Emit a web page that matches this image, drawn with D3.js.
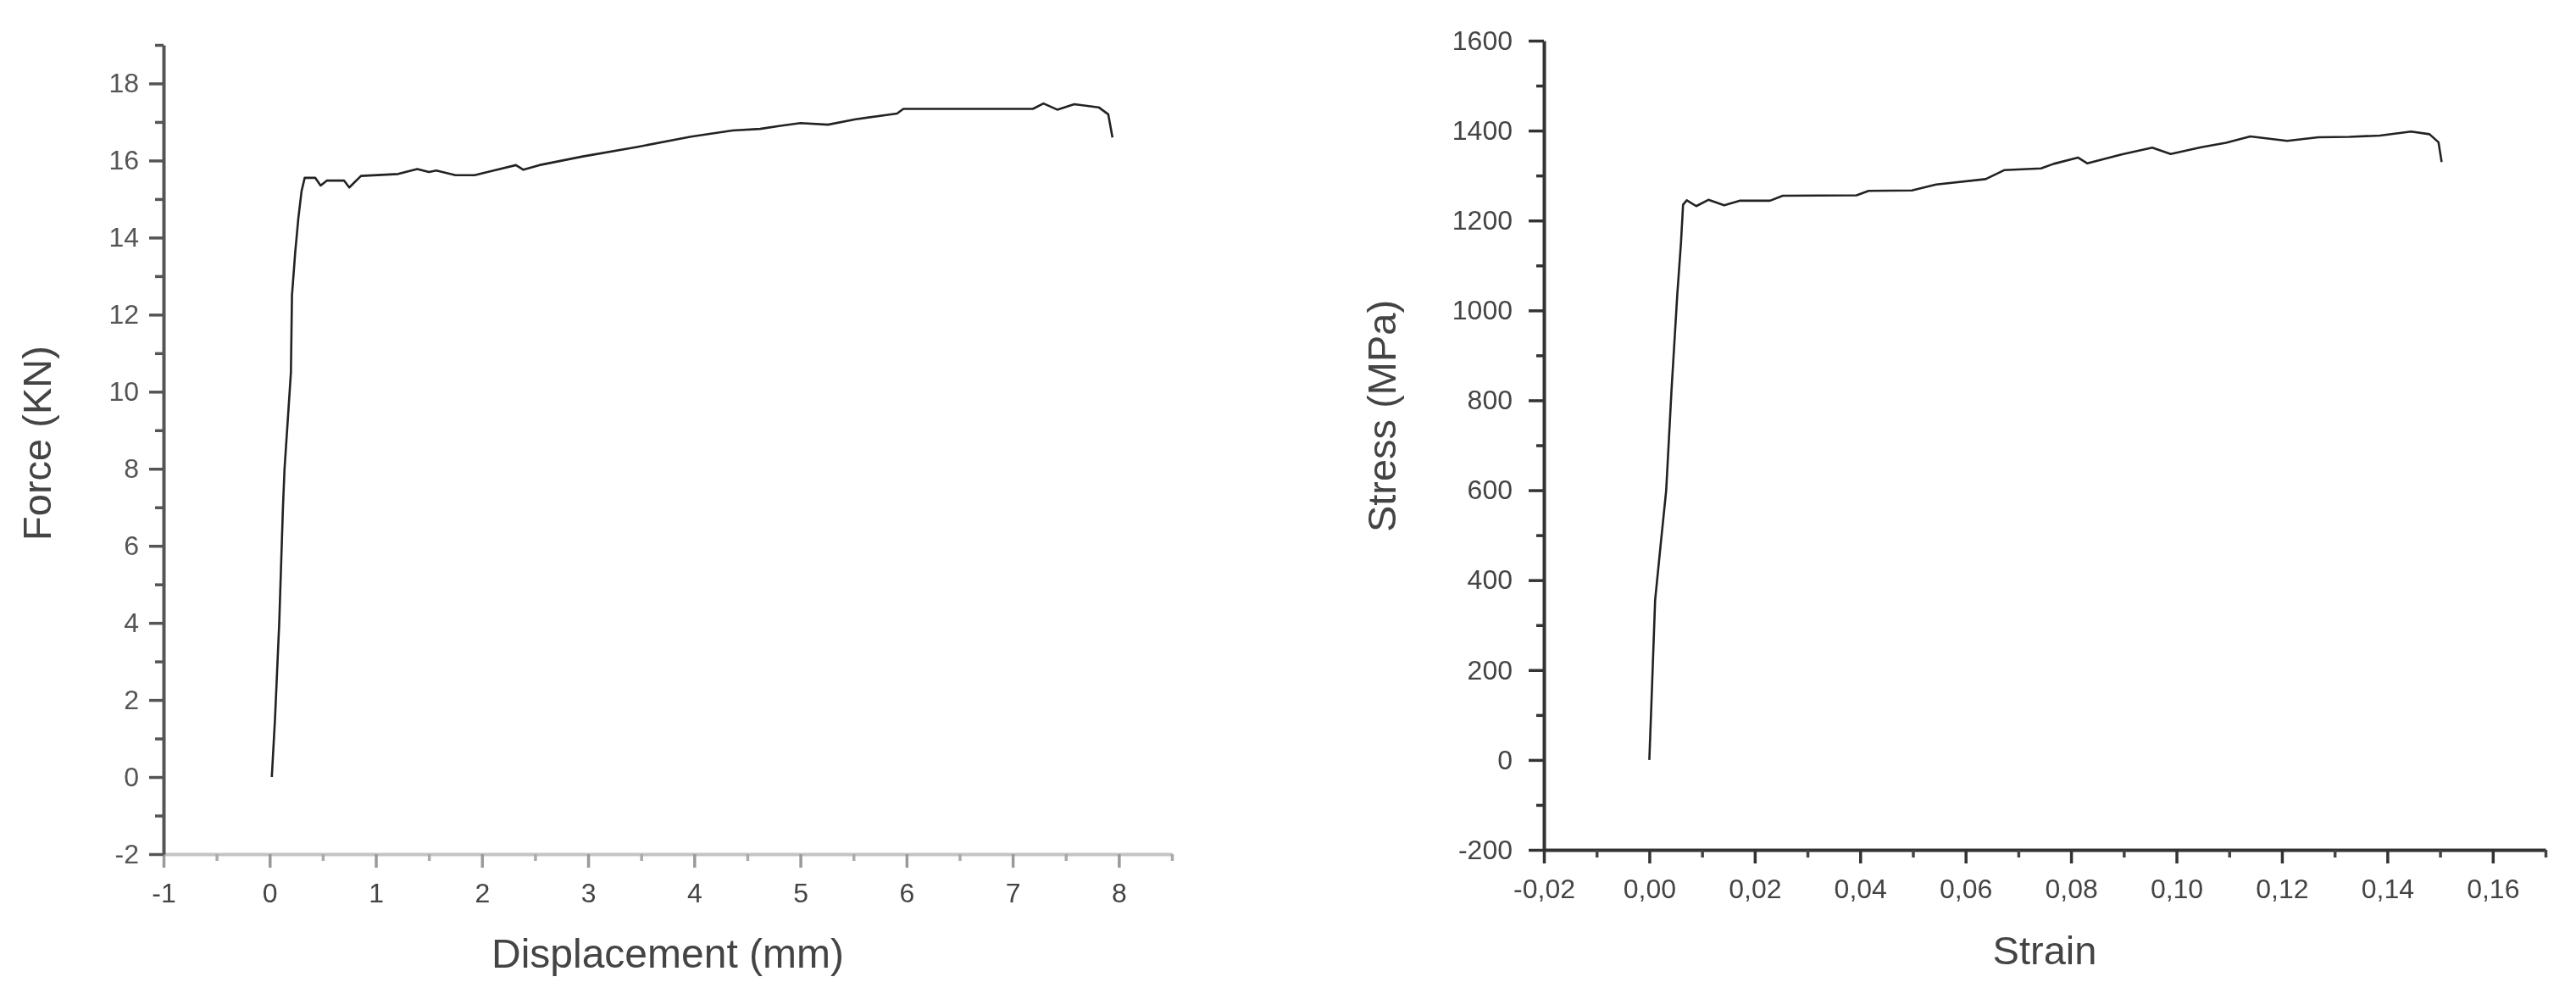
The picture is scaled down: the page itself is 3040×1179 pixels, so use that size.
<!DOCTYPE html>
<html>
<head>
<meta charset="utf-8">
<script src="https://cdn.jsdelivr.net/npm/d3@7"></script>
<style>
  body { margin: 0; background: #fff; }
  svg { display: block; filter: blur(0.6px); }
  .tick text { font-family: "Liberation Sans", Arial, sans-serif; }
</style>
</head>
<body>
<div id="chart"></div>
<script>
// left panel: force vs displacement
var dispMm = [0.02, 0.05, 0.09, 0.125, 0.14, 0.2, 0.21, 0.24, 0.27, 0.3, 0.33, 0.43, 0.48, 0.54, 0.7, 0.75, 0.86, 1.21, 1.39, 1.5, 1.57, 1.75, 1.93, 2.11, 2.32, 2.39, 2.54, 2.94, 3.46, 3.97, 4.36, 4.62, 4.81, 5.0, 5.26, 5.52, 5.91, 5.97, 6.55, 7.19, 7.29, 7.42, 7.58, 7.81, 7.9, 7.94];
var forceKN = [0.0, 1.5, 4.0, 7.0, 8.0, 10.5, 12.5, 13.6, 14.5, 15.2, 15.55, 15.55, 15.35, 15.48, 15.48, 15.3, 15.6, 15.65, 15.78, 15.7, 15.74, 15.62, 15.62, 15.74, 15.88, 15.76, 15.88, 16.1, 16.35, 16.62, 16.78, 16.82, 16.9, 16.97, 16.93, 17.07, 17.22, 17.34, 17.34, 17.34, 17.48, 17.32, 17.46, 17.38, 17.2, 16.6];
var dispTicks = [-1, 0, 1, 2, 3, 4, 5, 6, 7, 8];
var forceTicks = [-2, 0, 2, 4, 6, 8, 10, 12, 14, 16, 18];

// right panel: stress vs strain
var strain = [0.0, 0.0004, 0.0011, 0.0022, 0.0032, 0.0042, 0.0053, 0.006, 0.0064, 0.0071, 0.0089, 0.0112, 0.0142, 0.0171, 0.0229, 0.0253, 0.0393, 0.0416, 0.0498, 0.0544, 0.0638, 0.0673, 0.0743, 0.0767, 0.0813, 0.0831, 0.0896, 0.0954, 0.0989, 0.1047, 0.1094, 0.114, 0.121, 0.1269, 0.1328, 0.1386, 0.1445, 0.148, 0.1497, 0.1503];
var stressMPa = [0, 127, 356, 485, 600, 821, 1035, 1150, 1235, 1245, 1232, 1246, 1234, 1244, 1244, 1255, 1256, 1266, 1267, 1280, 1292, 1312, 1316, 1326, 1340, 1327, 1347, 1362, 1348, 1363, 1373, 1387, 1377, 1385, 1386, 1389, 1398, 1392, 1374, 1330];
var strainTicks = [-0.02, 0, 0.02, 0.04, 0.06, 0.08, 0.10, 0.12, 0.14, 0.16];
var stressTicks = [-200, 0, 200, 400, 600, 800, 1000, 1200, 1400, 1600];

var svg = d3.select("#chart")
  .append("svg")
  .attr("width", 3040)
  .attr("height", 1179);

var font = "'Liberation Sans', Arial, sans-serif";

function styleAxis(g, lineColor, tickColor, textColor) {
  g.select(".domain").attr("stroke", lineColor).attr("stroke-width", 4);
  g.selectAll(".tick line").attr("stroke", tickColor).attr("stroke-width", 3.5);
  g.selectAll(".tick text").attr("fill", textColor).style("font-size", "32px");
}

function minorTicks(g, axis, color) {
  g.call(axis);
  g.select(".domain").remove();
  g.selectAll(".tick line").attr("stroke", color).attr("stroke-width", 3.5);
}

// ---------- left chart ----------
var x1 = d3.scaleLinear().domain([-1, 8.5]).range([193, 1383]);
var y1 = d3.scaleLinear().domain([-2, 19]).range([1008, 53]);

var gx1 = svg.append("g").attr("transform", "translate(0," + y1(-2) + ")")
  .call(d3.axisBottom(x1).tickValues(dispTicks).tickSize(16).tickPadding(18).tickSizeOuter(0)
    .tickFormat(function(d) { return d < 0 ? "-" + Math.abs(d) : d; }));
styleAxis(gx1, "#c4c4c4", "#9a9a9a", "#444");
minorTicks(svg.append("g").attr("transform", "translate(0," + y1(-2) + ")"),
  d3.axisBottom(x1).tickValues(d3.range(-0.5, 8.6, 1)).tickSize(8).tickFormat(""), "#aaa");

var gy1 = svg.append("g").attr("transform", "translate(" + x1(-1) + ",0)")
  .call(d3.axisLeft(y1).tickValues(forceTicks).tickSize(17).tickPadding(12).tickSizeOuter(0)
    .tickFormat(function(d) { return d < 0 ? "-" + Math.abs(d) : d; }));
styleAxis(gy1, "#555", "#555", "#555");
minorTicks(svg.append("g").attr("transform", "translate(" + x1(-1) + ",0)"),
  d3.axisLeft(y1).tickValues(d3.range(-1, 19.5, 2)).tickSize(10).tickFormat(""), "#555");

var line1 = d3.line()
  .x(function(d) { return x1(d[0]); })
  .y(function(d) { return y1(d[1]); });

svg.append("path")
  .datum(d3.zip(dispMm, forceKN))
  .attr("d", line1)
  .attr("fill", "none")
  .attr("stroke", "#222")
  .attr("stroke-width", 2.6)
  .attr("stroke-linejoin", "round");

svg.append("text")
  .attr("x", (x1(-1) + x1(8.5)) / 2)
  .attr("y", 1142)
  .attr("text-anchor", "middle")
  .attr("font-family", font)
  .attr("font-size", 48)
  .attr("fill", "#444")
  .text("Displacement (mm)");

svg.append("text")
  .attr("transform", "translate(60,523) rotate(-90)")
  .attr("text-anchor", "middle")
  .attr("font-family", font)
  .attr("font-size", 47)
  .attr("fill", "#444")
  .text("Force (KN)");

// ---------- right chart ----------
var x2 = d3.scaleLinear().domain([-0.02, 0.17]).range([1822, 3004]);
var y2 = d3.scaleLinear().domain([-200, 1600]).range([1003, 48]);

var gx2 = svg.append("g").attr("transform", "translate(0," + y2(-200) + ")")
  .call(d3.axisBottom(x2).tickValues(strainTicks).tickSize(16).tickPadding(18).tickSizeOuter(0)
    .tickFormat(function(d) { return (d < 0 ? "-" : "") + Math.abs(d).toFixed(2).replace(".", ","); }));
styleAxis(gx2, "#333", "#333", "#444");
minorTicks(svg.append("g").attr("transform", "translate(0," + y2(-200) + ")"),
  d3.axisBottom(x2).tickValues(d3.range(-0.01, 0.175, 0.02)).tickSize(9).tickFormat(""), "#444");

var gy2 = svg.append("g").attr("transform", "translate(" + x2(-0.02) + ",0)")
  .call(d3.axisLeft(y2).tickValues(stressTicks).tickSize(18).tickPadding(19).tickSizeOuter(0)
    .tickFormat(function(d) { return d < 0 ? "-" + Math.abs(d) : d; }));
styleAxis(gy2, "#333", "#333", "#444");
minorTicks(svg.append("g").attr("transform", "translate(" + x2(-0.02) + ",0)"),
  d3.axisLeft(y2).tickValues(d3.range(-100, 1600, 200)).tickSize(9).tickFormat(""), "#333");

var line2 = d3.line()
  .x(function(d) { return x2(d[0]); })
  .y(function(d) { return y2(d[1]); });

svg.append("path")
  .datum(d3.zip(strain, stressMPa))
  .attr("d", line2)
  .attr("fill", "none")
  .attr("stroke", "#222")
  .attr("stroke-width", 2.6)
  .attr("stroke-linejoin", "round");

svg.append("text")
  .attr("x", (x2(-0.02) + x2(0.17)) / 2)
  .attr("y", 1138)
  .attr("text-anchor", "middle")
  .attr("font-family", font)
  .attr("font-size", 47)
  .attr("fill", "#444")
  .text("Strain");

svg.append("text")
  .attr("transform", "translate(1647,491) rotate(-90)")
  .attr("text-anchor", "middle")
  .attr("font-family", font)
  .attr("font-size", 47)
  .attr("fill", "#444")
  .text("Stress (MPa)");
</script>
</body>
</html>
